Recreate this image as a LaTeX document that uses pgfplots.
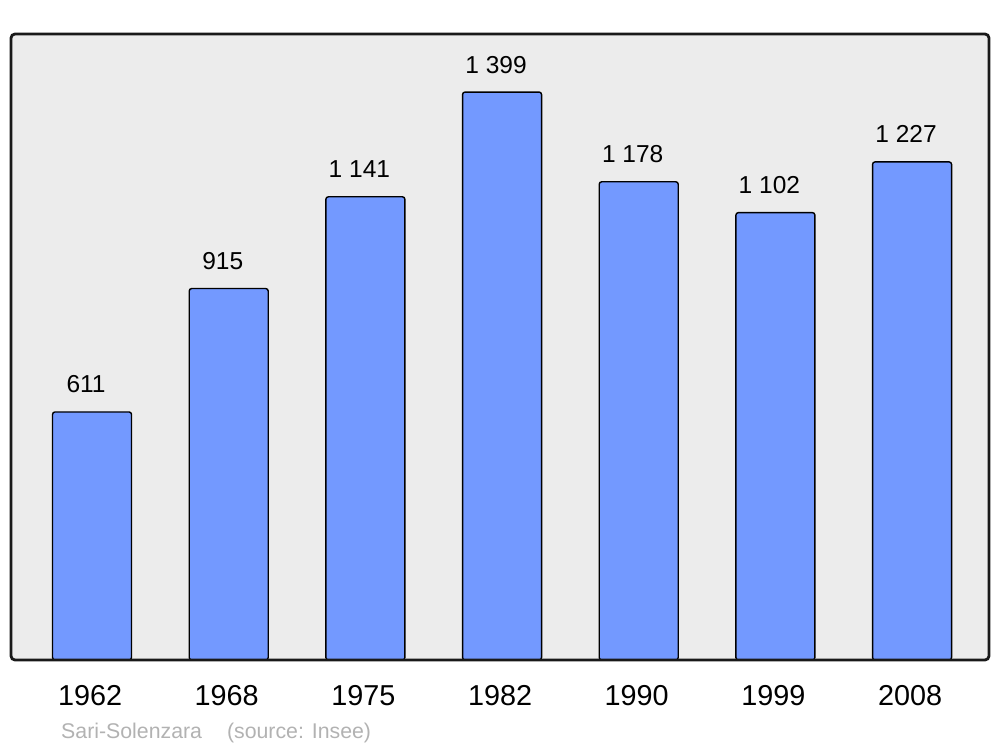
\documentclass[border=0pt]{standalone}
\usepackage{pgfplots}
\pgfplotsset{compat=1.18}
\usepackage{fontspec}
\setmainfont{Liberation Sans}
\definecolor{barblue}{RGB}{115,153,255}
\definecolor{bggray}{RGB}{236,236,236}
\definecolor{srcgray}{RGB}{178,178,178}
\begin{document}
\begin{tikzpicture}
\path[use as bounding box] (-11pt,-87pt) rectangle (989pt,660pt);
\begin{axis}[
  at={(0pt,0pt)}, anchor=south west,
  scale only axis, width=978pt, height=626pt,
  xmin=-0.593, xmax=6.563, ymin=0, ymax=1542,
  axis line style={draw=none},
  ytick=\empty,
  xtick={0,1,2,3,4,5,6},
  xticklabels={1962,1968,1975,1982,1990,1999,2008},
  major tick length=0pt,
  xticklabel style={anchor=base, yshift=-45pt, xshift=-2pt, inner sep=0pt, font=\fontsize{28.8}{30}\selectfont},
  clip=false,
]
\fill[bggray] (rel axis cs:0,0) rectangle (rel axis cs:1,1);
\addplot[ybar, bar width=79pt, fill=barblue, draw=black, line width=1.4pt, rounded corners=2.5pt,
  nodes near coords, point meta=explicit symbolic,
  every node near coord/.style={anchor=base, yshift=19pt, xshift=-6pt, inner sep=0pt, font=\fontsize{24.5}{26}\selectfont, text=black}]
  table[meta=lab, row sep=\\] {
  x y lab\\
  0 611 611\\
  1 915 915\\
  2 1141 {1 141}\\
  3 1399 {1 399}\\
  4 1178 {1 178}\\
  5 1102 {1 102}\\
  6 1227 {1 227}\\
  };
\draw[line width=2.8pt, rounded corners=4pt, draw=black!90] (rel axis cs:0,0) rectangle (rel axis cs:1,1);
\end{axis}
\node[anchor=base west, inner sep=0pt, text=srcgray, font=\fontsize{21.3}{23}\selectfont] at (50pt,-78pt) {Sari-Solenzara\hspace{25pt}(source: Insee)};
\end{tikzpicture}
\end{document}
